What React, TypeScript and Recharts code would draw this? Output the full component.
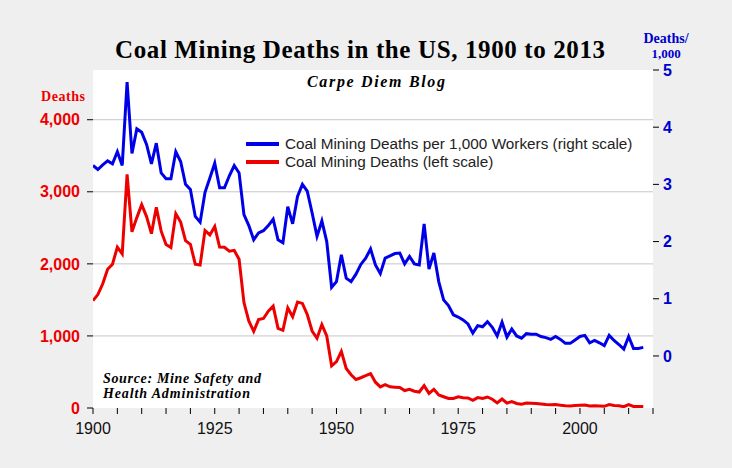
import React from 'react';
import { ComposedChart, Line, XAxis, YAxis, CartesianGrid, ReferenceLine, Legend } from 'recharts';

const years = [
  1900, 1901, 1902, 1903, 1904, 1905, 1906, 1907, 1908, 1909,
  1910, 1911, 1912, 1913, 1914, 1915, 1916, 1917, 1918, 1919,
  1920, 1921, 1922, 1923, 1924, 1925, 1926, 1927, 1928, 1929,
  1930, 1931, 1932, 1933, 1934, 1935, 1936, 1937, 1938, 1939,
  1940, 1941, 1942, 1943, 1944, 1945, 1946, 1947, 1948, 1949,
  1950, 1951, 1952, 1953, 1954, 1955, 1956, 1957, 1958, 1959,
  1960, 1961, 1962, 1963, 1964, 1965, 1966, 1967, 1968, 1969,
  1970, 1971, 1972, 1973, 1974, 1975, 1976, 1977, 1978, 1979,
  1980, 1981, 1982, 1983, 1984, 1985, 1986, 1987, 1988, 1989,
  1990, 1991, 1992, 1993, 1994, 1995, 1996, 1997, 1998, 1999,
  2000, 2001, 2002, 2003, 2004, 2005, 2006, 2007, 2008, 2009,
  2010, 2011, 2012, 2013,
];

// Coal mining deaths (left scale)
const deaths = [
  1489, 1574, 1724, 1926, 1995, 2232, 2138, 3242, 2445, 2642,
  2821, 2656, 2419, 2785, 2454, 2269, 2226, 2696, 2580, 2323,
  2272, 1995, 1984, 2462, 2402, 2518, 2234, 2231, 2176, 2187,
  2063, 1463, 1207, 1064, 1226, 1242, 1342, 1413, 1105, 1078,
  1388, 1266, 1471, 1451, 1298, 1068, 968, 1158, 999, 585,
  643, 785, 548, 461, 396, 420, 448, 478, 358, 293,
  325, 294, 289, 284, 242, 259, 233, 222, 311, 203,
  260, 181, 156, 132, 133, 155, 141, 139, 106, 144,
  133, 153, 122, 70, 125, 68, 89, 63, 53, 68,
  66, 61, 55, 47, 45, 47, 39, 30, 29, 35,
  38, 42, 27, 30, 28, 23, 47, 34, 30, 18,
  48, 21, 20, 20,
];

// Coal mining deaths per 1,000 workers (right scale)
const rate = [
  3.33, 3.26, 3.34, 3.41, 3.36, 3.57, 3.33, 4.79, 3.54, 3.97,
  3.91, 3.70, 3.36, 3.72, 3.20, 3.10, 3.10, 3.57, 3.40, 3.00,
  2.91, 2.44, 2.34, 2.86, 3.11, 3.37, 2.94, 2.94, 3.15, 3.33,
  3.20, 2.47, 2.28, 2.03, 2.15, 2.19, 2.28, 2.39, 2.03, 1.98,
  2.61, 2.31, 2.79, 3.00, 2.88, 2.50, 2.09, 2.36, 2.00, 1.20,
  1.30, 1.77, 1.36, 1.30, 1.43, 1.60, 1.71, 1.87, 1.59, 1.44,
  1.71, 1.75, 1.79, 1.80, 1.61, 1.74, 1.61, 1.59, 2.31, 1.52,
  1.80, 1.30, 0.98, 0.88, 0.72, 0.68, 0.63, 0.56, 0.40, 0.53,
  0.51, 0.60, 0.50, 0.35, 0.59, 0.33, 0.47, 0.35, 0.31, 0.39,
  0.38, 0.38, 0.34, 0.32, 0.29, 0.34, 0.29, 0.22, 0.22, 0.28,
  0.34, 0.36, 0.23, 0.27, 0.23, 0.18, 0.36, 0.27, 0.20, 0.12,
  0.34, 0.13, 0.13, 0.15,
];

const xTicks = [
  1900, 1905, 1910, 1915, 1920, 1925, 1930, 1935, 1940, 1945, 1950, 1955,
  1960, 1965, 1970, 1975, 1980, 1985, 1990, 1995, 2000, 2005, 2010, 2015,
];
const xLabelYears = [1900, 1925, 1950, 1975, 2000];
const leftTicks = [0, 1000, 2000, 3000, 4000];
const gridValues = [1000, 2000, 3000, 4000];
const rightTicks = [0, 1, 2, 3, 4, 5];

const title = 'Coal Mining Deaths in the US, 1900 to 2013';
const subtitle = 'Carpe Diem Blog';
const leftUnit = 'Deaths';
const rightUnit = ['Deaths/', '1,000'];
const sourceLines = ['Source: Mine Safety and', 'Health Administration'];
const legendItems = [
  { label: 'Coal Mining Deaths per 1,000 Workers (right scale)', color: '#0000e8' },
  { label: 'Coal Mining Deaths (left scale)', color: '#ee0000' },
];

const rows = years.map((y, i) => ({ year: y, deaths: deaths[i], rate: rate[i] }));

const BLUE = '#0000e8';
const RED = '#ee0000';
const SERIF = '"Liberation Serif", "DejaVu Serif", serif';
const SANS = '"Liberation Sans", Arial, sans-serif';

const renderLegend = () => (
  <div style={{ fontFamily: SANS, fontSize: 15.3, color: '#222', lineHeight: '18px' }}>
    {legendItems.map((it) => (
      <div key={it.label} style={{ display: 'flex', alignItems: 'center', height: 18 }}>
        <span style={{ display: 'inline-block', width: 33, height: 4, background: it.color, marginRight: 6 }} />
        <span style={{ whiteSpace: 'nowrap' }}>{it.label}</span>
      </div>
    ))}
  </div>
);

export default function App() {
  return (
    <div style={{ position: 'absolute', left: 0, top: 0, width: 732, height: 468, background: '#efefef' }}>
      <ComposedChart width={732} height={468} data={rows} margin={{ top: 70, right: 0, bottom: 30, left: 0 }}>
        <CartesianGrid yAxisId="left" horizontal={false} vertical={false} fill="#ffffff" />
        <XAxis
          dataKey="year"
          type="number"
          domain={[1900, 2015]}
          ticks={xTicks}
          interval={0}
          allowDataOverflow
          axisLine={false}
          tickLine={{ stroke: '#000' }}
          tickSize={6}
          tickMargin={9}
          height={30}
          tickFormatter={(v: number) => (xLabelYears.includes(v) ? String(v) : '')}
          tick={{ fill: '#111', fontSize: 16, fontFamily: SANS }}
        />
        <YAxis
          yAxisId="left"
          orientation="left"
          width={93}
          domain={[0, 4690]}
          ticks={leftTicks}
          interval={0}
          allowDataOverflow
          axisLine={false}
          tickLine={{ stroke: '#000' }}
          tickSize={6}
          tickMargin={7}
          tickFormatter={(v: number) => v.toLocaleString('en-US')}
          tick={{ fill: '#ee0000', fontSize: 16, fontWeight: 'bold', fontFamily: SANS }}
        />
        <YAxis
          yAxisId="right"
          orientation="right"
          width={79}
          domain={[-0.91, 5]}
          ticks={rightTicks}
          interval={0}
          allowDataOverflow
          axisLine={false}
          tickLine={{ stroke: '#000' }}
          tickSize={6}
          tickMargin={4}
          tick={{ fill: '#0000cc', fontSize: 16, fontWeight: 'bold', fontFamily: SANS, textAnchor: 'start' }}
        />
        {gridValues.map((v) => (
          <ReferenceLine key={v} yAxisId="left" y={v} stroke="#c6c6c6" strokeWidth={1} />
        ))}
        <Line
          yAxisId="left"
          dataKey="deaths"
          stroke={RED}
          strokeWidth={3}
          dot={false}
          activeDot={false}
          isAnimationActive={false}
        />
        <Line
          yAxisId="right"
          dataKey="rate"
          stroke={BLUE}
          strokeWidth={3}
          dot={false}
          activeDot={false}
          isAnimationActive={false}
        />
        <Legend
          layout="horizontal"
          verticalAlign="middle"
          align="center"
          wrapperStyle={{ left: 246, top: 135, width: 420 }}
          content={renderLegend}
        />
      </ComposedChart>
      <svg
        width={732}
        height={468}
        style={{ position: 'absolute', left: 0, top: 0, pointerEvents: 'none' }}
      >
        <text x={360} y={58} textAnchor="middle" fontFamily={SERIF} fontWeight="bold" fontSize={25} fill="#000"
          textLength={490} lengthAdjust="spacing">
          {title}
        </text>
        <text x={307} y={87} fontFamily={SERIF} fontWeight="bold" fontStyle="italic" fontSize={16} fill="#000"
          textLength={138} lengthAdjust="spacing">
          {subtitle}
        </text>
        <text x={41} y={101} fontFamily={SERIF} fontWeight="bold" fontSize={14} fill="#ee0000"
          textLength={44} lengthAdjust="spacing">
          {leftUnit}
        </text>
        <text x={666} y={43} textAnchor="middle" fontFamily={SERIF} fontWeight="bold" fontSize={14} fill="#0000cc">
          {rightUnit[0]}
        </text>
        <text x={666} y={58} textAnchor="middle" fontFamily={SERIF} fontWeight="bold" fontSize={13} fill="#0000cc">
          {rightUnit[1]}
        </text>
        <text x={103} y={383} fontFamily={SERIF} fontWeight="bold" fontStyle="italic" fontSize={14} fill="#000"
          textLength={158} lengthAdjust="spacing">
          {sourceLines[0]}
        </text>
        <text x={103} y={398} fontFamily={SERIF} fontWeight="bold" fontStyle="italic" fontSize={14} fill="#000"
          textLength={147} lengthAdjust="spacing">
          {sourceLines[1]}
        </text>
      </svg>
    </div>
  );
}
